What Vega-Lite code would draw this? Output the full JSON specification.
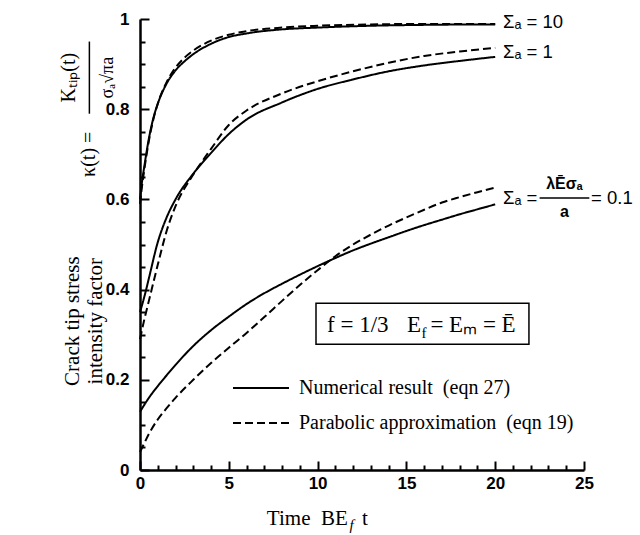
{
  "$schema": "https://vega.github.io/schema/vega-lite/v6.json",
  "width": 444,
  "height": 451,
  "autosize": {"type": "none"},
  "padding": {"left": 140, "top": 19, "right": 56, "bottom": 65},
  "background": "white",
  "config": {"view": {"stroke": null}},
  "data": {"values": [{}]},
  "resolve": {"axis": {"x": "independent", "y": "independent"}},
  "layer": [
    {
      "data": {"values": [
        {"series": "10", "method": "Numerical result \u00a0(eqn 27)", "t": 0, "k": 0.60},
        {"series": "10", "method": "Numerical result \u00a0(eqn 27)", "t": 0.1, "k": 0.635},
        {"series": "10", "method": "Numerical result \u00a0(eqn 27)", "t": 0.25, "k": 0.675},
        {"series": "10", "method": "Numerical result \u00a0(eqn 27)", "t": 0.5, "k": 0.735},
        {"series": "10", "method": "Numerical result \u00a0(eqn 27)", "t": 0.75, "k": 0.78},
        {"series": "10", "method": "Numerical result \u00a0(eqn 27)", "t": 1, "k": 0.812},
        {"series": "10", "method": "Numerical result \u00a0(eqn 27)", "t": 1.5, "k": 0.857},
        {"series": "10", "method": "Numerical result \u00a0(eqn 27)", "t": 2, "k": 0.886},
        {"series": "10", "method": "Numerical result \u00a0(eqn 27)", "t": 2.5, "k": 0.906},
        {"series": "10", "method": "Numerical result \u00a0(eqn 27)", "t": 3, "k": 0.922},
        {"series": "10", "method": "Numerical result \u00a0(eqn 27)", "t": 4, "k": 0.945},
        {"series": "10", "method": "Numerical result \u00a0(eqn 27)", "t": 5, "k": 0.96},
        {"series": "10", "method": "Numerical result \u00a0(eqn 27)", "t": 6, "k": 0.968},
        {"series": "10", "method": "Numerical result \u00a0(eqn 27)", "t": 8, "k": 0.977},
        {"series": "10", "method": "Numerical result \u00a0(eqn 27)", "t": 10, "k": 0.981},
        {"series": "10", "method": "Numerical result \u00a0(eqn 27)", "t": 13, "k": 0.985},
        {"series": "10", "method": "Numerical result \u00a0(eqn 27)", "t": 16, "k": 0.987},
        {"series": "10", "method": "Numerical result \u00a0(eqn 27)", "t": 20, "k": 0.988},
        {"series": "10p", "method": "Parabolic approximation \u00a0(eqn 19)", "t": 0, "k": 0.59},
        {"series": "10p", "method": "Parabolic approximation \u00a0(eqn 19)", "t": 0.1, "k": 0.625},
        {"series": "10p", "method": "Parabolic approximation \u00a0(eqn 19)", "t": 0.25, "k": 0.668},
        {"series": "10p", "method": "Parabolic approximation \u00a0(eqn 19)", "t": 0.5, "k": 0.73},
        {"series": "10p", "method": "Parabolic approximation \u00a0(eqn 19)", "t": 0.75, "k": 0.777},
        {"series": "10p", "method": "Parabolic approximation \u00a0(eqn 19)", "t": 1, "k": 0.812},
        {"series": "10p", "method": "Parabolic approximation \u00a0(eqn 19)", "t": 1.5, "k": 0.86},
        {"series": "10p", "method": "Parabolic approximation \u00a0(eqn 19)", "t": 2, "k": 0.892},
        {"series": "10p", "method": "Parabolic approximation \u00a0(eqn 19)", "t": 2.5, "k": 0.914},
        {"series": "10p", "method": "Parabolic approximation \u00a0(eqn 19)", "t": 3, "k": 0.93},
        {"series": "10p", "method": "Parabolic approximation \u00a0(eqn 19)", "t": 4, "k": 0.952},
        {"series": "10p", "method": "Parabolic approximation \u00a0(eqn 19)", "t": 5, "k": 0.965},
        {"series": "10p", "method": "Parabolic approximation \u00a0(eqn 19)", "t": 6, "k": 0.973},
        {"series": "10p", "method": "Parabolic approximation \u00a0(eqn 19)", "t": 8, "k": 0.981},
        {"series": "10p", "method": "Parabolic approximation \u00a0(eqn 19)", "t": 10, "k": 0.985},
        {"series": "10p", "method": "Parabolic approximation \u00a0(eqn 19)", "t": 13, "k": 0.988},
        {"series": "10p", "method": "Parabolic approximation \u00a0(eqn 19)", "t": 16, "k": 0.989},
        {"series": "10p", "method": "Parabolic approximation \u00a0(eqn 19)", "t": 20, "k": 0.989},
        {"series": "1", "method": "Numerical result \u00a0(eqn 27)", "t": 0, "k": 0.35},
        {"series": "1", "method": "Numerical result \u00a0(eqn 27)", "t": 0.25, "k": 0.385},
        {"series": "1", "method": "Numerical result \u00a0(eqn 27)", "t": 0.5, "k": 0.425},
        {"series": "1", "method": "Numerical result \u00a0(eqn 27)", "t": 1, "k": 0.505},
        {"series": "1", "method": "Numerical result \u00a0(eqn 27)", "t": 1.5, "k": 0.56},
        {"series": "1", "method": "Numerical result \u00a0(eqn 27)", "t": 2, "k": 0.60},
        {"series": "1", "method": "Numerical result \u00a0(eqn 27)", "t": 3, "k": 0.657},
        {"series": "1", "method": "Numerical result \u00a0(eqn 27)", "t": 4, "k": 0.703},
        {"series": "1", "method": "Numerical result \u00a0(eqn 27)", "t": 5, "k": 0.745},
        {"series": "1", "method": "Numerical result \u00a0(eqn 27)", "t": 6, "k": 0.777},
        {"series": "1", "method": "Numerical result \u00a0(eqn 27)", "t": 8, "k": 0.815},
        {"series": "1", "method": "Numerical result \u00a0(eqn 27)", "t": 10, "k": 0.845},
        {"series": "1", "method": "Numerical result \u00a0(eqn 27)", "t": 12, "k": 0.866},
        {"series": "1", "method": "Numerical result \u00a0(eqn 27)", "t": 14, "k": 0.884},
        {"series": "1", "method": "Numerical result \u00a0(eqn 27)", "t": 16, "k": 0.897},
        {"series": "1", "method": "Numerical result \u00a0(eqn 27)", "t": 18, "k": 0.907},
        {"series": "1", "method": "Numerical result \u00a0(eqn 27)", "t": 20, "k": 0.916},
        {"series": "1p", "method": "Parabolic approximation \u00a0(eqn 19)", "t": 0, "k": 0.29},
        {"series": "1p", "method": "Parabolic approximation \u00a0(eqn 19)", "t": 0.25, "k": 0.335},
        {"series": "1p", "method": "Parabolic approximation \u00a0(eqn 19)", "t": 0.5, "k": 0.375},
        {"series": "1p", "method": "Parabolic approximation \u00a0(eqn 19)", "t": 1, "k": 0.455},
        {"series": "1p", "method": "Parabolic approximation \u00a0(eqn 19)", "t": 1.5, "k": 0.53},
        {"series": "1p", "method": "Parabolic approximation \u00a0(eqn 19)", "t": 2, "k": 0.585},
        {"series": "1p", "method": "Parabolic approximation \u00a0(eqn 19)", "t": 3, "k": 0.655},
        {"series": "1p", "method": "Parabolic approximation \u00a0(eqn 19)", "t": 4, "k": 0.712},
        {"series": "1p", "method": "Parabolic approximation \u00a0(eqn 19)", "t": 5, "k": 0.765},
        {"series": "1p", "method": "Parabolic approximation \u00a0(eqn 19)", "t": 6, "k": 0.797},
        {"series": "1p", "method": "Parabolic approximation \u00a0(eqn 19)", "t": 8, "k": 0.835},
        {"series": "1p", "method": "Parabolic approximation \u00a0(eqn 19)", "t": 10, "k": 0.862},
        {"series": "1p", "method": "Parabolic approximation \u00a0(eqn 19)", "t": 12, "k": 0.884},
        {"series": "1p", "method": "Parabolic approximation \u00a0(eqn 19)", "t": 14, "k": 0.903},
        {"series": "1p", "method": "Parabolic approximation \u00a0(eqn 19)", "t": 16, "k": 0.918},
        {"series": "1p", "method": "Parabolic approximation \u00a0(eqn 19)", "t": 18, "k": 0.928},
        {"series": "1p", "method": "Parabolic approximation \u00a0(eqn 19)", "t": 20, "k": 0.936},
        {"series": "0.1", "method": "Numerical result \u00a0(eqn 27)", "t": 0, "k": 0.129},
        {"series": "0.1", "method": "Numerical result \u00a0(eqn 27)", "t": 0.5, "k": 0.16},
        {"series": "0.1", "method": "Numerical result \u00a0(eqn 27)", "t": 1, "k": 0.186},
        {"series": "0.1", "method": "Numerical result \u00a0(eqn 27)", "t": 1.5, "k": 0.21},
        {"series": "0.1", "method": "Numerical result \u00a0(eqn 27)", "t": 2, "k": 0.233},
        {"series": "0.1", "method": "Numerical result \u00a0(eqn 27)", "t": 3, "k": 0.275},
        {"series": "0.1", "method": "Numerical result \u00a0(eqn 27)", "t": 4, "k": 0.31},
        {"series": "0.1", "method": "Numerical result \u00a0(eqn 27)", "t": 5, "k": 0.34},
        {"series": "0.1", "method": "Numerical result \u00a0(eqn 27)", "t": 6, "k": 0.368},
        {"series": "0.1", "method": "Numerical result \u00a0(eqn 27)", "t": 7, "k": 0.392},
        {"series": "0.1", "method": "Numerical result \u00a0(eqn 27)", "t": 8, "k": 0.413},
        {"series": "0.1", "method": "Numerical result \u00a0(eqn 27)", "t": 9, "k": 0.433},
        {"series": "0.1", "method": "Numerical result \u00a0(eqn 27)", "t": 10, "k": 0.452},
        {"series": "0.1", "method": "Numerical result \u00a0(eqn 27)", "t": 11, "k": 0.47},
        {"series": "0.1", "method": "Numerical result \u00a0(eqn 27)", "t": 12, "k": 0.487},
        {"series": "0.1", "method": "Numerical result \u00a0(eqn 27)", "t": 13, "k": 0.502},
        {"series": "0.1", "method": "Numerical result \u00a0(eqn 27)", "t": 14, "k": 0.516},
        {"series": "0.1", "method": "Numerical result \u00a0(eqn 27)", "t": 15, "k": 0.53},
        {"series": "0.1", "method": "Numerical result \u00a0(eqn 27)", "t": 16, "k": 0.543},
        {"series": "0.1", "method": "Numerical result \u00a0(eqn 27)", "t": 17, "k": 0.555},
        {"series": "0.1", "method": "Numerical result \u00a0(eqn 27)", "t": 18, "k": 0.567},
        {"series": "0.1", "method": "Numerical result \u00a0(eqn 27)", "t": 19, "k": 0.578},
        {"series": "0.1", "method": "Numerical result \u00a0(eqn 27)", "t": 20, "k": 0.589},
        {"series": "0.1p", "method": "Parabolic approximation \u00a0(eqn 19)", "t": 0, "k": 0.04},
        {"series": "0.1p", "method": "Parabolic approximation \u00a0(eqn 19)", "t": 0.25, "k": 0.06},
        {"series": "0.1p", "method": "Parabolic approximation \u00a0(eqn 19)", "t": 0.5, "k": 0.08},
        {"series": "0.1p", "method": "Parabolic approximation \u00a0(eqn 19)", "t": 1, "k": 0.112},
        {"series": "0.1p", "method": "Parabolic approximation \u00a0(eqn 19)", "t": 1.5, "k": 0.137},
        {"series": "0.1p", "method": "Parabolic approximation \u00a0(eqn 19)", "t": 2, "k": 0.16},
        {"series": "0.1p", "method": "Parabolic approximation \u00a0(eqn 19)", "t": 3, "k": 0.2},
        {"series": "0.1p", "method": "Parabolic approximation \u00a0(eqn 19)", "t": 4, "k": 0.237},
        {"series": "0.1p", "method": "Parabolic approximation \u00a0(eqn 19)", "t": 5, "k": 0.271},
        {"series": "0.1p", "method": "Parabolic approximation \u00a0(eqn 19)", "t": 6, "k": 0.304},
        {"series": "0.1p", "method": "Parabolic approximation \u00a0(eqn 19)", "t": 7, "k": 0.339},
        {"series": "0.1p", "method": "Parabolic approximation \u00a0(eqn 19)", "t": 8, "k": 0.375},
        {"series": "0.1p", "method": "Parabolic approximation \u00a0(eqn 19)", "t": 9, "k": 0.41},
        {"series": "0.1p", "method": "Parabolic approximation \u00a0(eqn 19)", "t": 10, "k": 0.443},
        {"series": "0.1p", "method": "Parabolic approximation \u00a0(eqn 19)", "t": 11, "k": 0.474},
        {"series": "0.1p", "method": "Parabolic approximation \u00a0(eqn 19)", "t": 12, "k": 0.50},
        {"series": "0.1p", "method": "Parabolic approximation \u00a0(eqn 19)", "t": 13, "k": 0.522},
        {"series": "0.1p", "method": "Parabolic approximation \u00a0(eqn 19)", "t": 14, "k": 0.542},
        {"series": "0.1p", "method": "Parabolic approximation \u00a0(eqn 19)", "t": 15, "k": 0.56},
        {"series": "0.1p", "method": "Parabolic approximation \u00a0(eqn 19)", "t": 16, "k": 0.577},
        {"series": "0.1p", "method": "Parabolic approximation \u00a0(eqn 19)", "t": 17, "k": 0.593},
        {"series": "0.1p", "method": "Parabolic approximation \u00a0(eqn 19)", "t": 18, "k": 0.605},
        {"series": "0.1p", "method": "Parabolic approximation \u00a0(eqn 19)", "t": 19, "k": 0.616},
        {"series": "0.1p", "method": "Parabolic approximation \u00a0(eqn 19)", "t": 20, "k": 0.626}
      ]},
      "mark": {"type": "line", "color": "black", "strokeWidth": 2, "interpolate": "monotone"},
      "encoding": {
        "x": {
          "field": "t", "type": "quantitative",
          "scale": {"domain": [0, 25], "nice": false, "zero": false},
          "axis": {
            "title": null, "orient": "bottom",
            "values": [0,1,2,3,4,5,6,7,8,9,10,11,12,13,14,15,16,17,18,19,20,21,22,23,24,25],
            "labelExpr": "datum.value % 5 === 0 ? datum.label : ''",
            "tickSize": {"condition": {"test": "datum.value % 5 === 0", "value": -9}, "value": -5},
            "labelPadding": 14,
            "domainColor": "black", "domainWidth": 2.5,
            "tickColor": "black", "tickWidth": 2,
            "labelFont": "Liberation Sans", "labelFontSize": 17, "labelFontWeight": "bold", "labelColor": "black",
            "grid": false, "labelFlush": false, "labelOverlap": false
          }
        },
        "y": {
          "field": "k", "type": "quantitative",
          "scale": {"domain": [0, 1], "nice": false},
          "axis": {
            "title": null, "orient": "left",
            "values": [0,0.05,0.1,0.15,0.2,0.25,0.3,0.35,0.4,0.45,0.5,0.55,0.6,0.65,0.7,0.75,0.8,0.85,0.9,0.95,1],
            "labelExpr": "abs(datum.value*5 - round(datum.value*5)) < 0.001 ? format(datum.value, '~g') : ''",
            "tickSize": {"condition": {"test": "abs(datum.value*5 - round(datum.value*5)) < 0.001", "value": -9}, "value": -5},
            "labelPadding": 20,
            "domainColor": "black", "domainWidth": 2.5,
            "tickColor": "black", "tickWidth": 2,
            "labelFont": "Liberation Sans", "labelFontSize": 17, "labelFontWeight": "bold", "labelColor": "black",
            "grid": false, "labelFlush": false, "labelOverlap": false
          }
        },
        "detail": {"field": "series"},
        "strokeDash": {
          "field": "method", "type": "nominal",
          "scale": {"domain": ["Numerical result \u00a0(eqn 27)", "Parabolic approximation \u00a0(eqn 19)"], "range": [[1, 0], [8, 4]]},
          "legend": {
            "title": null, "orient": "none", "legendX": 92, "legendY": 359,
            "symbolType": "stroke", "symbolSize": 3136, "symbolStrokeWidth": 2, "symbolStrokeColor": "black",
            "clipHeight": 20, "rowPadding": 15, "labelOffset": 9,
            "labelFont": "Liberation Serif", "labelFontSize": 20, "labelColor": "black", "labelLimit": 400
          }
        }
      }
    },
    {
      "mark": {"type": "rect", "fill": "white", "fillOpacity": 0, "stroke": "black", "strokeWidth": 1.5},
      "encoding": {"x": {"datum": 9.91, "axis": null}, "x2": {"datum": 21.9}, "y": {"datum": 0.370, "axis": null}, "y2": {"datum": 0.279}}
    },
    {
      "mark": {"type": "text", "text": "f = 1/3", "align": "left", "baseline": "middle", "font": "Liberation Serif", "fontSize": 23, "color": "black"},
      "encoding": {"x": {"datum": 10.53, "axis": null}, "y": {"datum": 0.3215, "axis": null}}
    },
    {
      "mark": {"type": "text", "text": "E", "align": "left", "baseline": "middle", "font": "Liberation Serif", "fontSize": 23, "color": "black"},
      "encoding": {"x": {"datum": 15.03, "axis": null}, "y": {"datum": 0.3215, "axis": null}}
    },
    {
      "mark": {"type": "text", "text": "f", "align": "left", "baseline": "middle", "font": "Liberation Serif", "fontSize": 15, "color": "black"},
      "encoding": {"x": {"datum": 15.85, "axis": null}, "y": {"datum": 0.304, "axis": null}}
    },
    {
      "mark": {"type": "text", "text": "= Eₘ = Ē", "align": "left", "baseline": "middle", "font": "Liberation Serif", "fontSize": 23, "color": "black"},
      "encoding": {"x": {"datum": 16.35, "axis": null}, "y": {"datum": 0.3215, "axis": null}}
    },
    {
      "mark": {"type": "text", "text": "Σₐ = 10", "align": "left", "baseline": "middle", "font": "Liberation Sans", "fontSize": 18.5, "color": "black"},
      "encoding": {"x": {"datum": 20.44, "axis": null}, "y": {"datum": 0.993, "axis": null}}
    },
    {
      "mark": {"type": "text", "text": "Σₐ = 1", "align": "left", "baseline": "middle", "font": "Liberation Sans", "fontSize": 18.5, "color": "black"},
      "encoding": {"x": {"datum": 20.44, "axis": null}, "y": {"datum": 0.927, "axis": null}}
    },
    {
      "mark": {"type": "text", "text": "Σₐ =", "align": "left", "baseline": "middle", "font": "Liberation Sans", "fontSize": 18.5, "color": "black"},
      "encoding": {"x": {"datum": 20.44, "axis": null}, "y": {"datum": 0.603, "axis": null}}
    },
    {
      "mark": {"type": "text", "text": "λĒσₐ", "align": "center", "baseline": "middle", "font": "Liberation Sans", "fontSize": 16, "fontWeight": "bold", "color": "black"},
      "encoding": {"x": {"datum": 23.9, "axis": null}, "y": {"datum": 0.634, "axis": null}}
    },
    {
      "mark": {"type": "rule", "color": "black", "strokeWidth": 1.5},
      "encoding": {"x": {"datum": 22.5, "axis": null}, "x2": {"datum": 25.3}, "y": {"datum": 0.603, "axis": null}}
    },
    {
      "mark": {"type": "text", "text": "a", "align": "center", "baseline": "middle", "font": "Liberation Sans", "fontSize": 16, "fontWeight": "bold", "color": "black"},
      "encoding": {"x": {"datum": 23.9, "axis": null}, "y": {"datum": 0.572, "axis": null}}
    },
    {
      "mark": {"type": "text", "text": "= 0.1", "align": "left", "baseline": "middle", "font": "Liberation Sans", "fontSize": 18.5, "color": "black"},
      "encoding": {"x": {"datum": 25.4, "axis": null}, "y": {"datum": 0.603, "axis": null}}
    },
    {
      "mark": {"type": "text", "text": "Crack tip stress", "angle": 270, "align": "center", "baseline": "middle", "font": "Liberation Serif", "fontSize": 21, "color": "black"},
      "encoding": {"x": {"datum": -3.75, "axis": null}, "y": {"datum": 0.33, "axis": null}}
    },
    {
      "mark": {"type": "text", "text": "intensity factor", "angle": 270, "align": "center", "baseline": "middle", "font": "Liberation Serif", "fontSize": 21, "color": "black"},
      "encoding": {"x": {"datum": -2.5, "axis": null}, "y": {"datum": 0.33, "axis": null}}
    },
    {
      "mark": {"type": "text", "text": "κ(t) =", "angle": 270, "align": "center", "baseline": "middle", "font": "Liberation Serif", "fontSize": 20, "color": "black"},
      "encoding": {"x": {"datum": -2.85, "axis": null}, "y": {"datum": 0.70, "axis": null}}
    },
    {
      "mark": {"type": "text", "text": "Kₜᵢₚ(t)", "angle": 270, "align": "center", "baseline": "middle", "font": "Liberation Serif", "fontSize": 20, "color": "black"},
      "encoding": {"x": {"datum": -4.0, "axis": null}, "y": {"datum": 0.87, "axis": null}}
    },
    {
      "mark": {"type": "rule", "color": "black", "strokeWidth": 1.5},
      "encoding": {"x": {"datum": -2.85, "axis": null}, "y": {"datum": 0.95, "axis": null}, "y2": {"datum": 0.79}}
    },
    {
      "mark": {"type": "text", "text": "σₐ√πa", "angle": 270, "align": "center", "baseline": "middle", "font": "Liberation Serif", "fontSize": 18, "color": "black"},
      "encoding": {"x": {"datum": -1.8, "axis": null}, "y": {"datum": 0.87, "axis": null}}
    },
    {
      "mark": {"type": "text", "text": "Time \u00a0BE", "align": "right", "baseline": "middle", "font": "Liberation Serif", "fontSize": 21, "color": "black"},
      "encoding": {"x": {"datum": 11.7, "axis": null}, "y": {"datum": -0.109, "axis": null}}
    },
    {
      "mark": {"type": "text", "text": "f", "align": "left", "baseline": "middle", "font": "Liberation Serif", "fontSize": 15, "fontStyle": "italic", "color": "black"},
      "encoding": {"x": {"datum": 11.8, "axis": null}, "y": {"datum": -0.123, "axis": null}}
    },
    {
      "mark": {"type": "text", "text": "t", "align": "left", "baseline": "middle", "font": "Liberation Serif", "fontSize": 21, "color": "black"},
      "encoding": {"x": {"datum": 12.5, "axis": null}, "y": {"datum": -0.109, "axis": null}}
    }
  ]
}
